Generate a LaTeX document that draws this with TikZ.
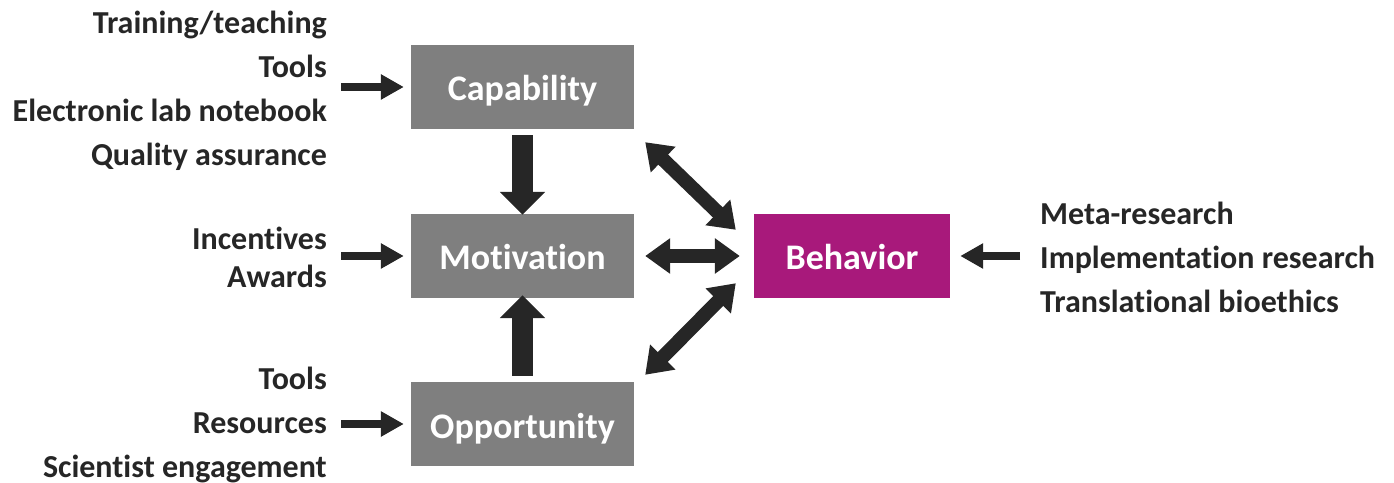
\documentclass[tikz,border=0pt]{standalone}
\usepackage{fontspec}
\setmainfont{Carlito}[RawFeature={-liga}]
\usetikzlibrary{arrows.meta,calc}
\definecolor{boxgray}{HTML}{7F7F7F}
\definecolor{behcol}{HTML}{A8197B}
\definecolor{ink}{HTML}{262626}
\begin{document}
\begin{tikzpicture}[x=1pt,y=1pt,
  box/.style={fill=boxgray,minimum width=223pt,minimum height=84pt,inner sep=0pt,text height=32pt,text depth=4pt,text=white,font=\fontsize{36}{40}\selectfont\bfseries},
  lbl/.style={inner sep=0pt,text=ink,font=\fontsize{32}{44}\selectfont\bfseries},
  inarrow/.style={draw=ink,line width=8pt,-{Triangle[length=23pt,width=24pt]},color=ink},
  bigarrow/.style={draw=ink,line width=21pt,-{Triangle[length=23pt,width=44pt]},color=ink},
  dblarrow/.style={draw=ink,line width=14pt,{Triangle[length=25pt,width=34pt]}-{Triangle[length=25pt,width=34pt]},color=ink}]
\useasboundingbox (0,0) rectangle (1394,482);
\node[box] (cap) at (522.5,395) {Capability};
\node[box] (mot) at (522.5,226) {Motivation};
\node[box] (opp) at (522.5,58) {Opportunity};
\node[box,fill=behcol,minimum width=196pt] (beh) at (852,226) {Behavior};
\node[lbl,anchor=east,align=right] (capin) at (327,391) {Training/teaching\\Tools\\Electronic lab notebook\\Quality assurance};
\node[lbl,anchor=east,align=right,font=\fontsize{32}{38}\selectfont\bfseries] (motin) at (327,225) {Incentives\\Awards};
\node[lbl,anchor=east,align=right] (oppin) at (327,57.5) {Tools\\Resources\\Scientist engagement};
\node[lbl,anchor=west,align=left] (behin) at (1040,225) {Meta-research\\Implementation research\\Translational bioethics};
\draw[inarrow] ([xshift=14pt]capin.east |- cap.west) -- ([xshift=-7pt]cap.west);
\draw[inarrow] ([xshift=14pt]motin.east |- mot.west) -- ([xshift=-7pt]mot.west);
\draw[inarrow] ([xshift=14pt]oppin.east |- opp.west) -- ([xshift=-7pt]opp.west);
\draw[inarrow] ([xshift=-20pt]behin.west |- beh.east) -- ([xshift=10pt]beh.east);
\draw[bigarrow] ([yshift=-6pt]cap.south) -- ([yshift=-1pt]mot.north);
\draw[bigarrow] ([yshift=6pt]opp.north) -- ([yshift=3pt]mot.south);
\draw[dblarrow] ([xshift=11pt]mot.east) -- ([xshift=-14pt]beh.west);
\draw[dblarrow] ($(cap.south east)+(11,-13)$) -- ($(beh.north west)+(-18,-16)$);
\draw[dblarrow] ($(opp.north east)+(11,7)$) -- ($(beh.south west)+(-18,15)$);
\end{tikzpicture}
\end{document}
